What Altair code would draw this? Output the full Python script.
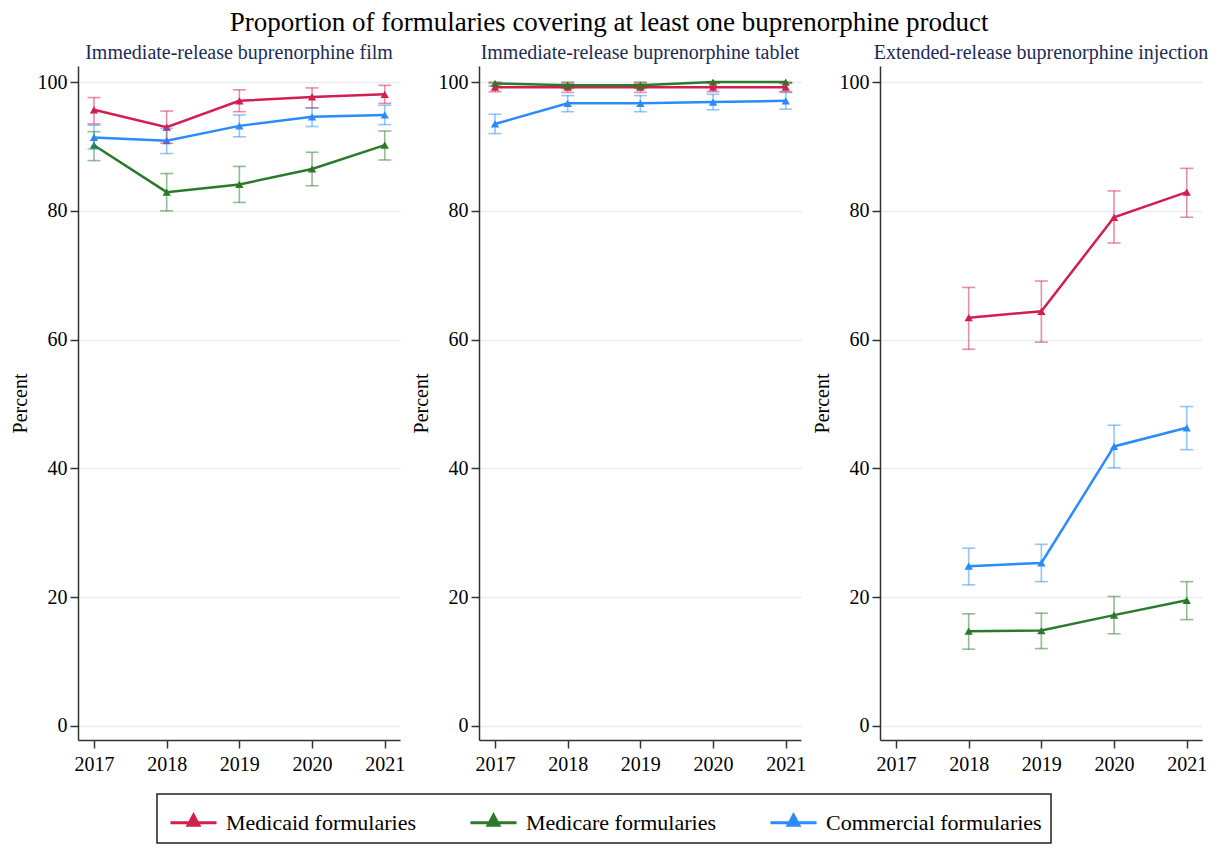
import altair as alt
import pandas as pd

years = [2017, 2018, 2019, 2020, 2021]
series_names = ["Medicaid formularies", "Medicare formularies", "Commercial formularies"]
series_colors = ["#d21f4f", "#2b7a2b", "#2a8cfa"]
panel_titles = [
    "Immediate-release buprenorphine film",
    "Immediate-release buprenorphine tablet",
    "Extended-release buprenorphine injection",
]
y_ticks = [0, 20, 40, 60, 80, 100]

# Immediate-release film
film_medicaid = [95.7, 93.0, 97.1, 97.7, 98.1]
film_medicaid_lo = [93.5, 90.5, 95.4, 96.0, 96.7]
film_medicaid_hi = [97.6, 95.5, 98.8, 99.1, 99.5]
film_medicare = [90.2, 82.9, 84.1, 86.5, 90.2]
film_medicare_lo = [87.8, 80.0, 81.3, 83.9, 87.9]
film_medicare_hi = [92.3, 85.8, 86.9, 89.1, 92.4]
film_commercial = [91.4, 90.9, 93.2, 94.6, 94.9]
film_commercial_lo = [89.6, 88.9, 91.5, 93.1, 93.4]
film_commercial_hi = [93.3, 92.8, 94.9, 96.0, 96.4]

# Immediate-release tablet
tab_medicaid = [99.2, 99.2, 99.2, 99.2, 99.2]
tab_medicaid_lo = [98.5, 98.4, 98.4, 98.5, 98.5]
tab_medicaid_hi = [99.8, 99.8, 99.8, 99.8, 99.8]
tab_medicare = [99.8, 99.5, 99.5, 100.0, 100.0]
tab_medicare_lo = [99.4, 99.0, 99.0, 99.9, 99.9]
tab_medicare_hi = [100.0, 100.0, 100.0, 100.0, 100.0]
tab_commercial = [93.5, 96.7, 96.7, 96.9, 97.1]
tab_commercial_lo = [92.0, 95.4, 95.4, 95.7, 95.8]
tab_commercial_hi = [95.0, 97.9, 97.9, 98.1, 98.4]

# Extended-release injection (no 2017 data)
inj_medicaid = [None, 63.4, 64.4, 79.0, 82.9]
inj_medicaid_lo = [None, 58.5, 59.6, 75.0, 79.0]
inj_medicaid_hi = [None, 68.1, 69.1, 83.1, 86.6]
inj_medicare = [None, 14.7, 14.8, 17.2, 19.5]
inj_medicare_lo = [None, 11.9, 12.0, 14.3, 16.5]
inj_medicare_hi = [None, 17.4, 17.5, 20.1, 22.4]
inj_commercial = [None, 24.8, 25.3, 43.4, 46.3]
inj_commercial_lo = [None, 21.9, 22.4, 40.1, 42.9]
inj_commercial_hi = [None, 27.6, 28.2, 46.7, 49.6]

panels = [
    [(film_medicaid, film_medicaid_lo, film_medicaid_hi),
     (film_medicare, film_medicare_lo, film_medicare_hi),
     (film_commercial, film_commercial_lo, film_commercial_hi)],
    [(tab_medicaid, tab_medicaid_lo, tab_medicaid_hi),
     (tab_medicare, tab_medicare_lo, tab_medicare_hi),
     (tab_commercial, tab_commercial_lo, tab_commercial_hi)],
    [(inj_medicaid, inj_medicaid_lo, inj_medicaid_hi),
     (inj_medicare, inj_medicare_lo, inj_medicare_hi),
     (inj_commercial, inj_commercial_lo, inj_commercial_hi)],
]

FONT = "Liberation Serif"

xscale = alt.Scale(domain=[2016.78, 2021.21], nice=False, zero=False)
yscale = alt.Scale(domain=[-2.2, 102.5], nice=False, zero=False)
xaxis = alt.Axis(values=years, format="d", title=None, grid=False, labelPadding=6)
yaxis = alt.Axis(values=y_ticks, title="Percent", grid=True)
color_scale = alt.Scale(domain=series_names, range=series_colors)

legend = alt.Legend(
    title=None, orient="none", legendX=79, legendY=728,
    direction="horizontal", strokeColor="#222222",
    padding=9, labelFont=FONT, labelFontSize=22, labelColor="black", labelLimit=400,
    symbolType="M-1.28,0H1.28M-0.3,0.14L0,-0.42L0.3,0.14Z", symbolSize=1296,
    symbolStrokeWidth=3, columnPadding=22, labelOffset=13,
)


def make_panel(i):
    rows = []
    for s_idx, (vals, los, his) in enumerate(panels[i]):
        for yr, v, lo, hi in zip(years, vals, los, his):
            if v is None:
                continue
            rows.append({"year": yr, "series": series_names[s_idx], "order": s_idx,
                         "value": v, "lo": lo, "hi": hi})
    df = pd.DataFrame(rows)
    base = alt.Chart(df)
    color = alt.Color("series:N", scale=color_scale, legend=legend, sort=series_names)
    x = alt.X("year:Q", scale=xscale, axis=xaxis)
    line = base.mark_line(strokeWidth=2.5).encode(
        x=x,
        y=alt.Y("value:Q", scale=yscale, axis=yaxis),
        color=color,
        detail="order:O",
        order="year:Q",
    )
    pts = base.mark_point(shape="triangle-up", filled=True, size=70, opacity=1).encode(
        x=x,
        y=alt.Y("value:Q", scale=yscale, axis=yaxis),
        color=color,
    )
    err = base.mark_errorbar(ticks=True, size=13, thickness=1.6, opacity=0.5).encode(
        x=x,
        y=alt.Y("lo:Q", scale=yscale, axis=yaxis),
        y2="hi:Q",
        color=color,
        detail="order:O",
    )
    return alt.layer(line, pts, err).properties(
        width=322,
        height=674,
        title=alt.TitleParams(panel_titles[i], font=FONT, fontSize=20,
                              fontWeight="normal", color="#1c2b55", offset=3),
    )


chart = alt.hconcat(make_panel(0), make_panel(1), make_panel(2), spacing=6).properties(
    title=alt.TitleParams(
        "Proportion of formularies covering at least one buprenorphine product",
        font=FONT, fontSize=27, fontWeight="normal", color="black",
        anchor="middle", offset=6),
    padding={"left": 2, "top": 1, "right": 2, "bottom": 74},
).configure_view(strokeWidth=0).configure_axis(
    domainColor="#333333", domainWidth=1.5, tickColor="#333333", tickWidth=1.5,
    tickSize=8, labelFont=FONT, labelFontSize=20, labelColor="black", labelPadding=3,
    titleFont=FONT, titleFontSize=20, titleFontWeight="normal", titleColor="black",
    gridColor="#e6eef2", gridWidth=1.5,
).configure_axisY(titlePadding=7).configure_legend(
    strokeWidth=1.5, symbolOffset=8, gridAlign="all", symbolOpacity=1,
)

chart.save("out.html", embed_options={"renderer": "svg", "actions": False})
